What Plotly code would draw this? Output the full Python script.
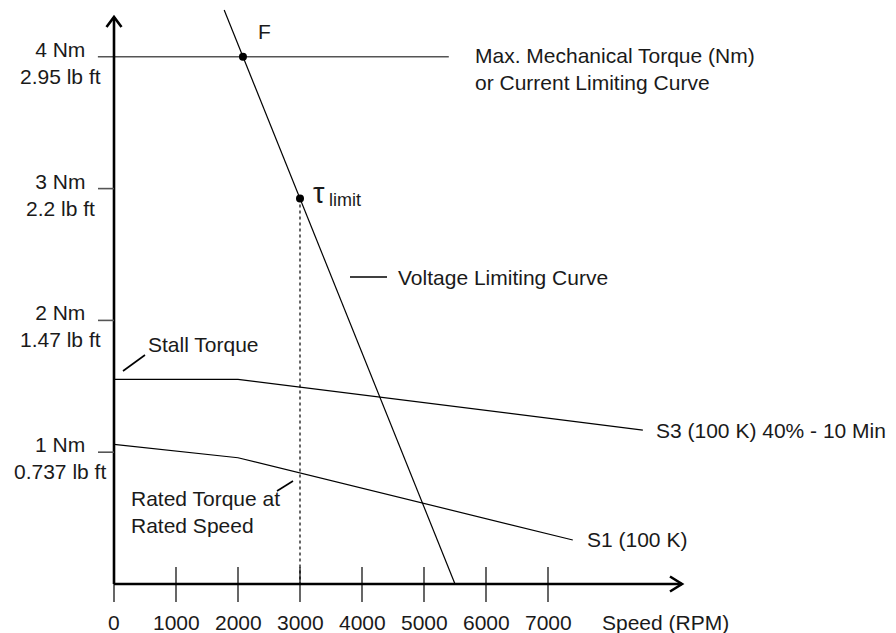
import plotly.graph_objects as go

# ---------------- data ----------------
speed_ticks = [0, 1000, 2000, 3000, 4000, 5000, 6000, 7000]
speed_tick_labels = ["0", "1000", "2000", "3000", "4000", "5000", "6000", "7000"]
torque_ticks = [1, 2, 3, 4]
torque_tick_labels = ["1 Nm<br>0.737 lb ft", "2 Nm<br>1.47 lb ft",
                      "3 Nm<br>2.2 lb ft", "4 Nm<br>2.95 lb ft"]

s1_speed = [0, 2000, 7400]
s1_torque = [1.060, 0.958, 0.334]
s3_speed = [0, 2000, 8530]
s3_torque = [1.553, 1.553, 1.168]
voltage_speed = [1777, 5500]
voltage_torque = [4.355, 0.0]
max_torque_speed = [-260, 5400]
max_torque = [4.0, 4.0]
f_speed, f_torque = [2080], [4.0]
tau_speed, tau_torque = [3000], [2.924]

# ---------------- geometry (pixel <-> data) ----------------
W, H = 896, 633
X0PX, PX_PER_RPM = 114, 0.062
Y0PX, PX_PER_NM = 584, 131.8
xr = [-X0PX / PX_PER_RPM, (W - X0PX) / PX_PER_RPM]
yr = [-(H - Y0PX) / PX_PER_NM, Y0PX / PX_PER_NM]


def dx(px):
    return px / PX_PER_RPM


def dy(px):
    return px / PX_PER_NM


def X(px):
    return (px - X0PX) / PX_PER_RPM


def Y(py):
    return (Y0PX - py) / PX_PER_NM


FONT = "Liberation Sans, Arial, sans-serif"
TXT = "#1a1a1a"
FS = 21

fig = go.Figure()


def line(xs, ys, color="black", width=1.2, dash=None):
    fig.add_trace(go.Scatter(x=xs, y=ys, mode="lines", hoverinfo="skip",
                             line=dict(color=color, width=width, dash=dash),
                             showlegend=False, cliponaxis=False))


# curves
line(s3_speed, s3_torque)
line(s1_speed, s1_torque)
line(voltage_speed, voltage_torque)
line(max_torque_speed, max_torque, color="#555555", width=1.6)
# dashed drop from tau limit
line([tau_speed[0], tau_speed[0]], [tau_torque[0], 0], dash="3px,3px", width=1.2)

# axes
y_top = Y(17)
x_end = X(682)
line([0, 0], [0, y_top], width=2.6)
line([0, x_end], [0, 0], width=2.6)
# arrow heads
line([-dx(7.5), 0, dx(7.5)], [y_top - dy(10), y_top, y_top - dy(10)], width=2.6)
line([x_end - dx(12), x_end, x_end - dx(12)], [dy(7.5), 0, -dy(7.5)], width=2.6)

# x ticks (crossing the axis)
tx, ty = [], []
for s in speed_ticks:
    tx += [s, s, None]
    ty += [dy(17), -dy(18), None]
line(tx, ty, width=1.2)
# y ticks (outside, grey)
yx, yy = [], []
for t in torque_ticks[:3]:
    yx += [-dx(16), 0, None]
    yy += [t, t, None]
line(yx, yy, color="#555555", width=1.6)

# leader dashes
line([X(123), X(145)], [Y(371), Y(355)], width=1.6)
line([X(277), X(293)], [Y(491), Y(481)], width=1.6)
line([X(350), X(387)], [Y(277), Y(277)], width=1.6)

# points
fig.add_trace(go.Scatter(x=f_speed + tau_speed, y=f_torque + tau_torque, mode="markers",
                         marker=dict(color="black", size=8), hoverinfo="skip",
                         showlegend=False, cliponaxis=False))

ann = []


def text(x, y, s, xanchor="left", align="left", yshift=0, size=FS):
    ann.append(dict(x=x, y=y, text=s, showarrow=False, xanchor=xanchor, yanchor="middle",
                    align=align, yshift=yshift, font=dict(family=FONT, size=size, color=TXT)))


for s, lab in zip(speed_ticks, speed_tick_labels):
    text(s, Y(622), lab, xanchor="center", align="center")
for t, lab in zip(torque_ticks, torque_tick_labels):
    text(X(60), t, lab, xanchor="center", align="center", yshift=-6)

text(X(600), Y(622), "Speed (RPM)")
text(max_torque_speed[-1] + dx(24), max_torque[-1],
     "Max. Mechanical Torque (Nm)<br>or Current Limiting Curve", yshift=-12)
text(X(396), Y(277), "Voltage Limiting Curve")
text(X(146), Y(344), "Stall Torque")
text(X(129), Y(512), "Rated Torque at<br>Rated Speed")
text(s3_speed[-1] + dx(11), s3_torque[-1], "S3 (100 K) 40% - 10 Min")
text(s1_speed[-1] + dx(12), s1_torque[-1], "S1 (100 K)")
text(f_speed[0] + dx(22), f_torque[0] + dy(25), "F", xanchor="center")
text(tau_speed[0] + dx(11), tau_torque[0] + dy(6), "τ", size=29)
text(tau_speed[0] + dx(27), tau_torque[0] - dy(1), "limit", size=18)

fig.update_layout(
    width=W, height=H, margin=dict(l=0, r=0, t=0, b=0),
    paper_bgcolor="white", plot_bgcolor="white",
    xaxis=dict(range=xr, visible=False, fixedrange=True),
    yaxis=dict(range=yr, visible=False, fixedrange=True),
    annotations=ann, showlegend=False, hovermode=False,
)

fig.write_html("out.html", config={"displayModeBar": False},
               post_script="document.body.style.margin='0';")
